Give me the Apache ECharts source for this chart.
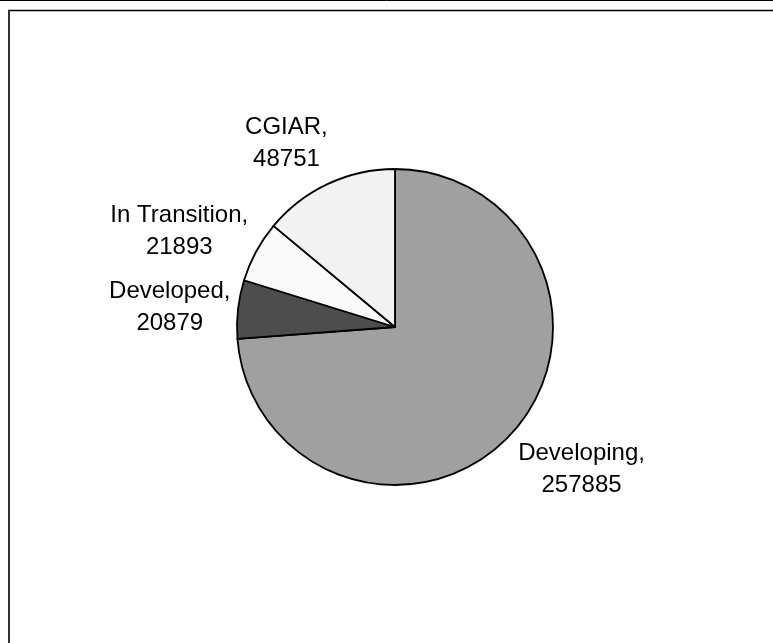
<!DOCTYPE html>
<html>
<head>
<meta charset="utf-8">
<script src="https://cdn.jsdelivr.net/npm/echarts@6/dist/echarts.min.js"></script>
<style>
  html, body { margin: 0; padding: 0; background: #ffffff; }
  #chart { width: 773px; height: 643px; }
</style>
</head>
<body>
<div id="chart"></div>
<script>
// Regional totals
const categories = ['Developing', 'Developed', 'In Transition', 'CGIAR'];
const values = [257885, 20879, 21893, 48751];
const sliceColors = ['#a0a0a0', '#4d4d4d', '#f9f9f9', '#f2f2f2'];

// pie geometry and label nudges (pixels)
const CX = 395, CY = 327, R = 158;
const LABEL_PAD = 14;
const labelNudge = [[14, 4], [6, 3], [-4, 2], [-18, 1]];

const total = values.reduce((a, b) => a + b, 0);

// mid-angle of each slice, measured clockwise from 12 o'clock
function midAngle(i) {
  let before = 0;
  for (let k = 0; k < i; k++) before += values[k];
  return ((before + values[i] / 2) / total) * 2 * Math.PI;
}

const chart = echarts.init(document.getElementById('chart'), null, { renderer: 'canvas' });

chart.setOption({
  animation: false,
  backgroundColor: '#ffffff',
  graphic: [
    { type: 'line', shape: { x1: 0, y1: 0.5, x2: 773, y2: 0.5 }, style: { stroke: '#000', lineWidth: 1 } },
    { type: 'line', shape: { x1: 8, y1: 10.5, x2: 773, y2: 10.5 }, style: { stroke: '#000', lineWidth: 1.5 } },
    { type: 'line', shape: { x1: 9, y1: 10, x2: 9, y2: 643 }, style: { stroke: '#333', lineWidth: 2 } }
  ],
  series: [{
    type: 'pie',
    center: [CX, CY],
    radius: R,
    startAngle: 90,
    clockwise: true,
    avoidLabelOverlap: false,
    data: categories.map((name, i) => ({
      name: name,
      value: values[i],
      itemStyle: { color: sliceColors[i] }
    })),
    itemStyle: { borderColor: '#000000', borderWidth: 1.8 },
    label: {
      show: true,
      position: 'outside',
      formatter: p => p.name + ',\n' + p.value,
      fontFamily: 'Liberation Sans, Arial, sans-serif',
      fontSize: 24,
      lineHeight: 32,
      color: '#000000',
      align: 'center'
    },
    labelLine: { show: false },
    emphasis: { disabled: true },
    // Place each label just outside its slice, along the slice's mid-angle
    labelLayout: function (params) {
      const i = params.dataIndex;
      const a = midAngle(i);
      const dx = Math.sin(a), dy = -Math.cos(a);
      const w = params.labelRect.width, h = params.labelRect.height;
      return {
        x: CX + dx * (R + LABEL_PAD) + dx * w / 2 + labelNudge[i][0],
        y: CY + dy * (R + LABEL_PAD) + dy * h / 2 + labelNudge[i][1],
        align: 'center',
        verticalAlign: 'middle'
      };
    }
  }]
});
</script>
</body>
</html>
